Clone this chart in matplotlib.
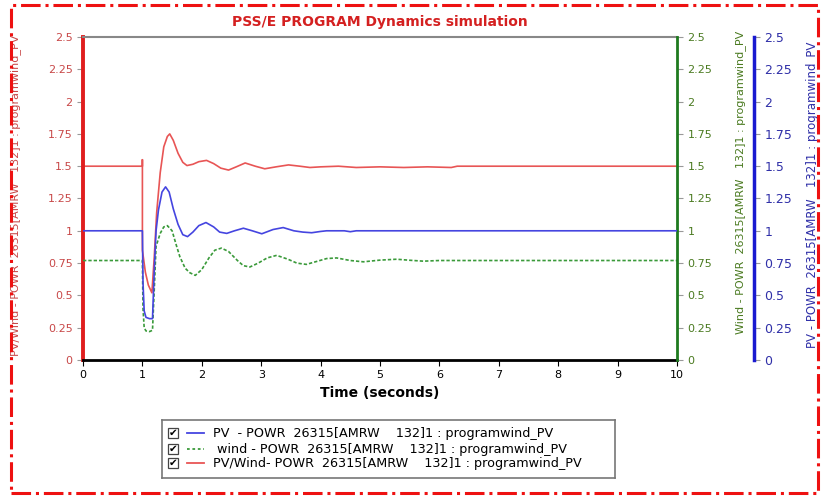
import matplotlib.pyplot as plt
from matplotlib.patches import Rectangle
from matplotlib.lines import Line2D

# series (time in seconds, value)
red_t = [0, 1.0, 1.0, 1.0, 1.05, 1.1, 1.16, 1.2, 1.24, 1.3, 1.36, 1.42, 1.46, 1.52, 1.6,
         1.68, 1.75, 1.85, 1.95, 2.08, 2.2, 2.32, 2.45, 2.58, 2.73, 2.9, 3.06, 3.25, 3.46,
         3.65, 3.82, 4.0, 4.3, 4.6, 5.0, 5.4, 5.8, 6.2, 6.3, 10]
red_v = [1.5, 1.5, 1.55, 0.85, 0.68, 0.58, 0.52, 0.8, 1.14, 1.45, 1.65, 1.73, 1.75, 1.70, 1.6,
         1.53, 1.505, 1.515, 1.535, 1.545, 1.52, 1.485, 1.47, 1.495, 1.525, 1.5, 1.48, 1.495, 1.51,
         1.5, 1.49, 1.495, 1.5, 1.49, 1.495, 1.49, 1.495, 1.49, 1.5, 1.5]

blue_t = [0, 1.0, 1.01, 1.03, 1.06, 1.12, 1.17, 1.2, 1.23, 1.27, 1.33, 1.39, 1.45, 1.52, 1.6,
          1.68, 1.76, 1.85, 1.95, 2.07, 2.2, 2.3, 2.42, 2.55, 2.7, 2.85, 3.01, 3.2, 3.37,
          3.55, 3.7, 3.85, 4.0, 4.1, 4.4, 4.5, 4.6, 10]
blue_v = [1.0, 1.0, 0.6, 0.38, 0.33, 0.32, 0.32, 0.7, 1.0, 1.16, 1.3, 1.34, 1.3, 1.17, 1.05,
          0.97, 0.955, 0.99, 1.04, 1.064, 1.03, 0.99, 0.98, 1.0, 1.02, 1.0, 0.977, 1.01, 1.025,
          1.0, 0.99, 0.985, 0.995, 1.0, 1.0, 0.993, 1.0, 1.0]

green_t = [0, 1.0, 1.01, 1.03, 1.06, 1.12, 1.17, 1.2, 1.23, 1.3, 1.36, 1.42, 1.5, 1.57, 1.63,
           1.72, 1.8, 1.89, 2.0, 2.12, 2.22, 2.33, 2.45, 2.6, 2.7, 2.81, 2.95, 3.1, 3.26,
           3.45, 3.6, 3.76, 3.95, 4.1, 4.27, 4.5, 4.72, 5.0, 5.28, 5.5, 5.73, 6.0, 10]
green_v = [0.77, 0.77, 0.4, 0.25, 0.225, 0.22, 0.23, 0.55, 0.88, 0.98, 1.03, 1.04, 1.0, 0.89, 0.80,
           0.71, 0.675, 0.655, 0.7, 0.79, 0.85, 0.866, 0.84, 0.77, 0.73, 0.72, 0.75, 0.79, 0.81,
           0.78, 0.75, 0.74, 0.765, 0.785, 0.79, 0.77, 0.76, 0.773, 0.78, 0.772, 0.765, 0.77, 0.77]

labels = ["PV  - POWR  26315[AMRW    132]1 : programwind_PV",
          " wind - POWR  26315[AMRW    132]1 : programwind_PV",
          "PV/Wind- POWR  26315[AMRW    132]1 : programwind_PV"]
yticks = [0, 0.25, 0.5, 0.75, 1, 1.25, 1.5, 1.75, 2, 2.25, 2.5]
xticks = list(range(0, 11))

red_line, blue_line, green_line = "#e85555", "#4545e0", "#3a9a3a"
red_ax, green_ax, blue_ax = "#e01e1e", "#1e7a1e", "#1a1ad0"
red_txt, green_txt, blue_txt = "#c84848", "#4a7a20", "#3030a8"

fig = plt.figure(figsize=(8.24, 4.97), dpi=100)
ax = fig.add_axes([83 / 824, 1 - 360 / 497, 594 / 824, 323 / 497])
ax_g = ax.twinx()
ax_b = ax.twinx()

ax.plot(red_t, red_v, color=red_line, lw=1.2)
ax_b.plot(blue_t, blue_v, color=blue_line, lw=1.2)
ax_g.plot(green_t, green_v, color=green_line, lw=1.2, dashes=(2, 1.2))

for a in (ax, ax_g, ax_b):
    a.set_xlim(0, 10)
    a.set_ylim(0, 2.5)
    a.set_yticks(yticks)
    a.set_yticklabels(["%g" % v for v in yticks])
    for s in a.spines.values():
        s.set_visible(False)

ax.spines["left"].set_visible(True)
ax.spines["left"].set_color(red_ax)
ax.spines["left"].set_linewidth(2.8)
ax.spines["bottom"].set_visible(True)
ax.spines["bottom"].set_color("black")
ax.spines["bottom"].set_linewidth(2)
ax.spines["top"].set_visible(True)
ax.spines["top"].set_color("#888888")
ax.spines["top"].set_linewidth(1.5)
ax.tick_params(axis="y", colors="#999999", labelcolor=red_txt, labelsize=8, length=4)
ax.tick_params(axis="x", colors="black", labelsize=8, length=4)
ax.set_xticks(xticks)
ax.set_xlabel("Time (seconds)", fontsize=10, fontweight="bold", labelpad=4)
ax.set_title("PSS/E PROGRAM Dynamics simulation", color="#d42020",
             fontsize=10, fontweight="bold", pad=8)
ax.set_ylabel("PV/Wind - POWR  26315[AMRW   132]1 : programwind_PV",
              color=red_txt, fontsize=8)
ax.yaxis.set_label_coords(-0.105, 0.51)

ax_g.spines["right"].set_visible(True)
ax_g.spines["right"].set_color(green_ax)
ax_g.spines["right"].set_linewidth(2)
ax_g.tick_params(axis="y", colors="#999999", labelcolor=green_txt, labelsize=8, length=4)
ax_g.set_ylabel("Wind - POWR  26315[AMRW   132]1 : programwind_PV",
                color=green_txt, fontsize=8)
ax_g.yaxis.set_label_coords(1.098, 0.55)

ax_b.spines["right"].set_visible(True)
ax_b.spines["right"].set_position(("axes", (754 - 83) / 594))
ax_b.spines["right"].set_color(blue_ax)
ax_b.spines["right"].set_linewidth(2.5)
ax_b.tick_params(axis="y", colors="#999999", labelcolor=blue_txt, labelsize=9, length=4)
ax_b.set_ylabel("PV - POWR  26315[AMRW   132]1 : programwind_PV",
                color=blue_txt, fontsize=8.5)
ax_b.yaxis.set_label_coords(1.218, 0.51)

# legend panel with check boxes
lg = fig.add_axes([162 / 824, 1 - 478 / 497, 453 / 824, 58 / 497])
lg.set_xlim(0, 453)
lg.set_ylim(58, 0)
lg.set_xticks([])
lg.set_yticks([])
for s in lg.spines.values():
    s.set_color("#777777")
    s.set_linewidth(1.2)
rows = [13, 29, 43]
styles = [dict(color=blue_line), dict(color=green_line, dashes=(1.5, 1.5)), dict(color=red_line)]
for y, lab, st in zip(rows, labels, styles):
    lg.add_patch(Rectangle((6, y - 5), 10, 10, fill=False, edgecolor="#444444", lw=0.9))
    lg.text(11, y + 0.3, "\u2714", fontsize=7.5, ha="center", va="center", color="black")
    lg.add_line(Line2D([25, 42], [y, y], lw=1.3, **st))
    lg.text(51, y, lab, fontsize=9.2, va="center", ha="left")

# dash-dot frame around the figure
fig.patches.append(Rectangle((11 / 824, 1 - 493 / 497), 807 / 824, 488 / 497,
                             transform=fig.transFigure, fill=False, edgecolor="#ee1111",
                             lw=2.2, linestyle="-."))

fig.savefig("out.png", dpi=100)
